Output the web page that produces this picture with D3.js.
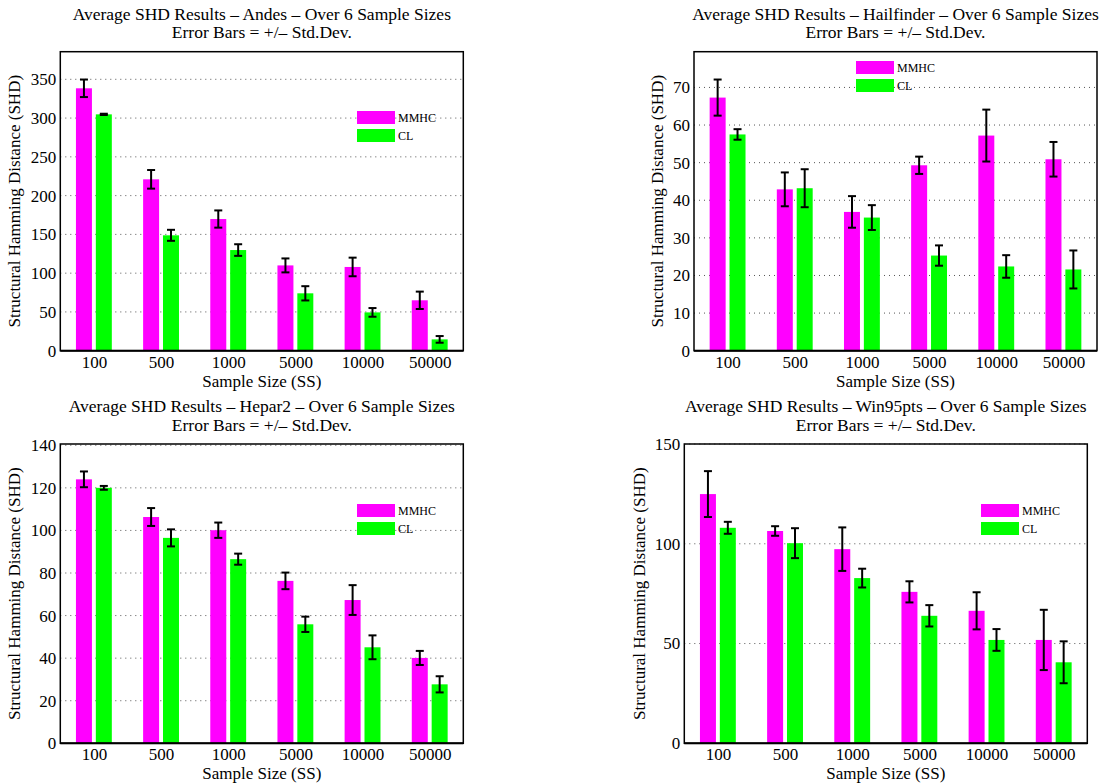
<!DOCTYPE html>
<html>
<head>
<meta charset="utf-8">
<script src="https://cdn.jsdelivr.net/npm/d3@7"></script>
<style>
  html, body { margin: 0; padding: 0; background: #fff; }
  svg { display: block; }
  text { font-family: "Liberation Serif", "DejaVu Serif", serif; fill: #000; }
</style>
</head>
<body>
<svg id="chart" width="1103" height="784"></svg>
<script>
// ---------- Data ----------
const sampleSizes = ["100", "500", "1000", "5000", "10000", "50000"];
const seriesNames = ["MMHC", "CL"];

const andesMMHC    = [338.4, 221.0, 169.8, 110.0, 108.0, 65.0];
const andesMMHCStd = [11.3, 12.0, 11.1, 9.0, 12.0, 11.2];
const andesCL      = [304.8, 148.8, 129.8, 74.0, 49.4, 14.6];
const andesCLStd   = [0.8, 7.1, 7.5, 9.2, 5.6, 4.3];
const andesTicks   = [0, 50, 100, 150, 200, 250, 300, 350];

const hailMMHC     = [67.3, 42.9, 36.9, 49.3, 57.2, 50.9];
const hailMMHCStd  = [4.8, 4.5, 4.2, 2.3, 6.9, 4.6];
const hailCL       = [57.5, 43.2, 35.4, 25.3, 22.4, 21.6];
const hailCLStd    = [1.4, 5.05, 3.3, 2.7, 3.0, 5.05];
const hailTicks    = [0, 10, 20, 30, 40, 50, 60, 70];

const heparMMHC    = [124.0, 106.3, 100.1, 76.3, 67.3, 40.1];
const heparMMHCStd = [3.7, 4.2, 3.6, 3.9, 7.0, 3.3];
const heparCL      = [120.0, 96.5, 86.5, 55.9, 45.1, 27.7];
const heparCLStd   = [0.9, 4.0, 2.6, 3.6, 5.6, 3.8];
const heparTicks   = [0, 20, 40, 60, 80, 100, 120, 140];

const winMMHC      = [124.9, 106.4, 97.3, 75.9, 66.4, 51.8];
const winMMHCStd   = [11.5, 2.4, 10.9, 5.3, 9.3, 15.1];
const winCL        = [108.0, 100.3, 82.8, 63.9, 51.8, 40.6];
const winCLStd     = [3.0, 7.5, 4.7, 5.35, 5.45, 10.5];
const winTicks     = [0, 50, 100, 150];

const seriesColors = ["#ff00ff", "#00ff00"];

// ---------- Panels (layout) ----------
const panels = [
  { name: "Andes",      mmhc: andesMMHC, mmhcStd: andesMMHCStd, cl: andesCL, clStd: andesCLStd, ticks: andesTicks, ymax: 385.6,
    box: { l: 60.3, t: 51.7, r: 463.3, b: 350.7 }, legend: { x: 357, y: 111 }, ylabOff: 40 },
  { name: "Hailfinder", mmhc: hailMMHC, mmhcStd: hailMMHCStd, cl: hailCL, clStd: hailCLStd, ticks: hailTicks, ymax: 79.5,
    box: { l: 694, t: 51.7, r: 1097, b: 350.7 }, legend: { x: 856, y: 61 }, ylabOff: 31 },
  { name: "Hepar2",     mmhc: heparMMHC, mmhcStd: heparMMHCStd, cl: heparCL, clStd: heparCLStd, ticks: heparTicks, ymax: 140.6,
    box: { l: 60.3, t: 444, r: 463.3, b: 743.3 }, legend: { x: 357, y: 504 }, ylabOff: 40 },
  { name: "Win95pts",   mmhc: winMMHC, mmhcStd: winMMHCStd, cl: winCL, clStd: winCLStd, ticks: winTicks, ymax: 150,
    box: { l: 684.3, t: 444, r: 1087.3, b: 743.3 }, legend: { x: 981, y: 504 }, ylabOff: 39.5 }
];

const svg = d3.select("#chart");

panels.forEach(p => {
  const g = svg.append("g");
  const { l, t, r, b } = p.box;
  const x = d3.scaleLinear().domain([0.5, sampleSizes.length + 0.5]).range([l, r]);
  const y = d3.scaleLinear().domain([0, p.ymax]).range([b, t]);
  const band = x(1) - x(0);
  const barW = band * 0.238;
  const off = band * 0.148;

  // gridlines
  g.append("g").selectAll("line")
    .data(p.ticks.filter(v => v > 0))
    .join("line")
    .attr("x1", l).attr("x2", r)
    .attr("y1", d => y(d)).attr("y2", d => y(d))
    .attr("stroke", "#555").attr("stroke-width", 1)
    .attr("stroke-dasharray", "1,4");

  const series = [
    { vals: p.mmhc, std: p.mmhcStd, color: seriesColors[0], dx: -off },
    { vals: p.cl,   std: p.clStd,   color: seriesColors[1], dx: off }
  ];

  series.forEach(s => {
    g.append("g").selectAll("rect")
      .data(s.vals)
      .join("rect")
      .attr("x", (d, i) => x(i + 1) + s.dx - barW / 2)
      .attr("width", barW)
      .attr("y", d => y(d))
      .attr("height", d => y(0) - y(d))
      .attr("fill", s.color);
  });

  series.forEach(s => {
    const eg = g.append("g").attr("stroke", "#000").attr("stroke-width", 2);
    s.vals.forEach((v, i) => {
      const cx = x(i + 1) + s.dx;
      const y1 = y(v + s.std[i]), y2 = y(v - s.std[i]);
      eg.append("line").attr("x1", cx).attr("x2", cx).attr("y1", y1).attr("y2", y2);
      eg.append("line").attr("x1", cx - 4).attr("x2", cx + 4).attr("y1", y1).attr("y2", y1);
      eg.append("line").attr("x1", cx - 4).attr("x2", cx + 4).attr("y1", y2).attr("y2", y2);
    });
  });

  // box
  g.append("rect")
    .attr("x", l).attr("y", t).attr("width", r - l).attr("height", b - t)
    .attr("fill", "none").attr("stroke", "#000").attr("stroke-width", 1.5);
  g.append("line").attr("x1", l).attr("x2", r).attr("y1", b).attr("y2", b)
    .attr("stroke", "#000").attr("stroke-width", 2);

  // y axis tick labels
  const yAxis = d3.axisLeft(y).tickValues(p.ticks).tickSize(0).tickPadding(4);
  const ya = g.append("g").attr("transform", `translate(${l},0)`).call(yAxis);
  ya.select(".domain").remove();
  ya.selectAll("text").attr("font-size", 17).style("font-family", "Liberation Serif");

  // x axis tick labels
  const xAxis = d3.axisBottom(x).tickValues(d3.range(1, sampleSizes.length + 1))
    .tickFormat((d, i) => sampleSizes[i]).tickSize(0).tickPadding(5);
  const xa = g.append("g").attr("transform", `translate(0,${b})`).call(xAxis);
  xa.select(".domain").remove();
  xa.selectAll("text").attr("font-size", 17).style("font-family", "Liberation Serif");

  const cx = (l + r) / 2;
  // titles
  g.append("text").attr("x", cx).attr("y", t - 31.7).attr("text-anchor", "middle")
    .attr("font-size", 17.5).text(`Average SHD Results \u2013 ${p.name} \u2013 Over 6 Sample Sizes`);
  g.append("text").attr("x", cx).attr("y", t - 13.5).attr("text-anchor", "middle")
    .attr("font-size", 17.5).text("Error Bars = +/\u2013 Std.Dev.");

  // axis labels
  g.append("text").attr("x", cx).attr("y", b + 36).attr("text-anchor", "middle")
    .attr("font-size", 17).text("Sample Size (SS)");
  g.append("text")
    .attr("transform", `translate(${l - p.ylabOff},${(t + b) / 2}) rotate(-90)`)
    .attr("text-anchor", "middle").attr("font-size", 17)
    .text("Structural Hamming Distance (SHD)");

  // legend
  const lg = g.append("g").attr("transform", `translate(${p.legend.x},${p.legend.y})`);
  seriesNames.forEach((nm, i) => {
    lg.append("rect").attr("x", 0).attr("y", i * 18).attr("width", 38).attr("height", 13)
      .attr("fill", seriesColors[i]);
    lg.append("text").attr("x", 41).attr("y", i * 18 + 11).attr("font-size", 12).text(nm);
  });
});
</script>
</body>
</html>
